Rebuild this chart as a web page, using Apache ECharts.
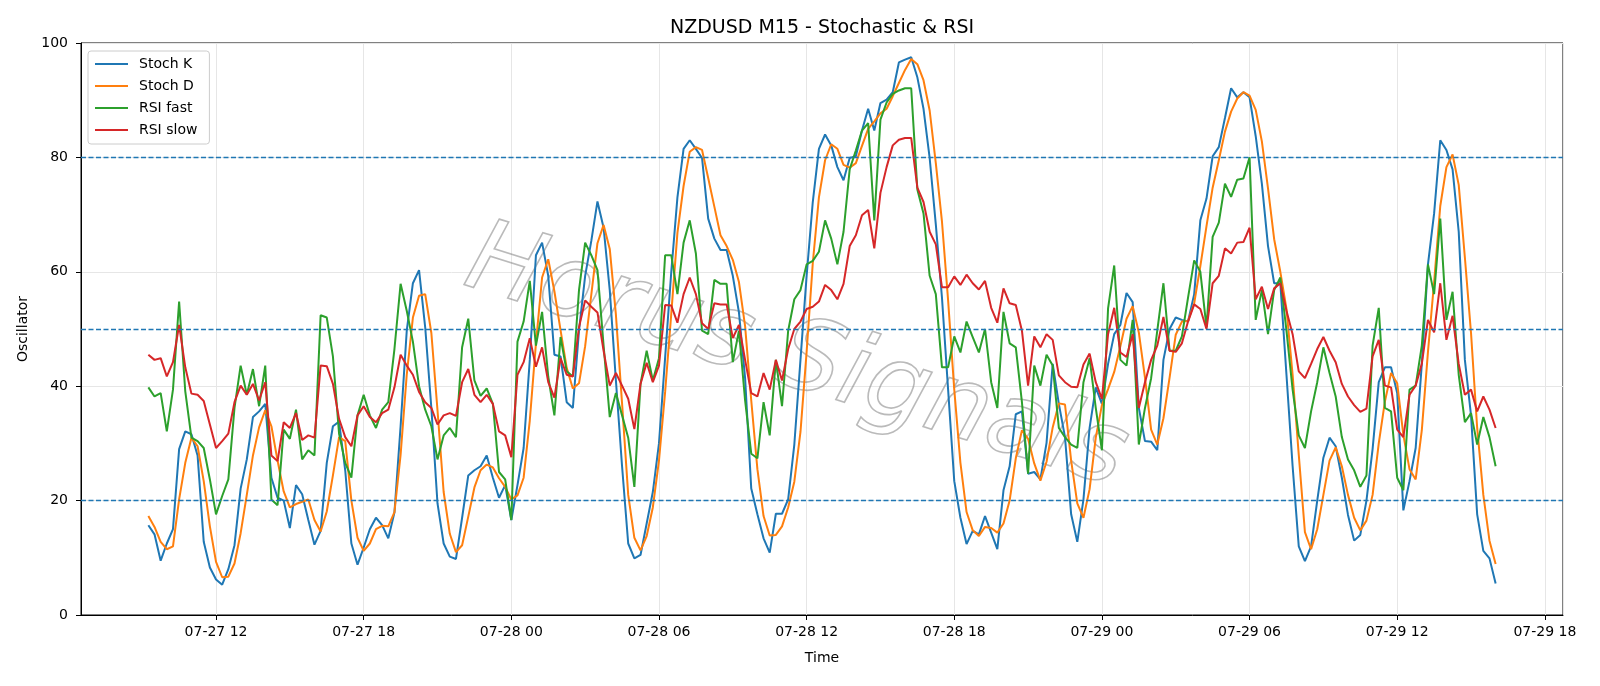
<!DOCTYPE html>
<html>
<head>
<meta charset="utf-8">
<title>NZDUSD M15 - Stochastic & RSI</title>
<script src="https://cdn.jsdelivr.net/npm/echarts@6/dist/echarts.min.js"></script>
<style>
html, body { margin: 0; padding: 0; background: #fff; }
#chart { width: 1600px; height: 686px; }
</style>
</head>
<body>
<div id="chart"></div>
<script>
// 15 minute bars, first one at 07-27 09:15
const startTime = Date.UTC(2020, 6, 27, 9, 15);
const stepMs = 15 * 60 * 1000;

const stochK = [
  15.7, 14.1, 9.5, 12.5, 15.0, 29.0, 32.1, 31.6, 27.9, 12.8,
  8.3, 6.2, 5.3, 8.0, 12.2, 22.1, 27.2, 34.6, 35.6, 36.9,
  24.0, 20.5, 20.0, 15.2, 22.7, 21.1, 16.6, 12.3, 14.7, 26.6,
  33.0, 33.8, 25.3, 12.5, 8.8, 11.8, 15.0, 17.0, 15.7, 13.4,
  17.9, 33.0, 49.7, 58.0, 60.3, 50.3, 36.2, 19.5, 12.5, 10.2,
  9.8, 17.0, 24.4, 25.3, 26.0, 27.9, 24.0, 20.5, 22.7, 16.6,
  22.7, 29.2, 44.6, 62.9, 65.1, 59.3, 45.5, 45.2, 37.2, 36.2,
  49.7, 59.3, 65.4, 72.3, 67.7, 56.8, 41.0, 26.0, 12.5, 9.9,
  10.5, 16.0, 21.5, 30.0, 45.0, 60.0, 73.0, 81.5, 83.0, 81.5,
  79.9, 69.3, 65.8, 63.8, 63.8, 59.3, 52.9, 41.4, 22.1, 17.6,
  13.4, 10.9, 17.7, 17.7, 20.2, 29.8, 44.6, 59.3, 72.2, 81.5,
  84.0, 82.1, 78.3, 76.0, 79.9, 80.2, 84.7, 88.5, 84.7, 89.5,
  90.1, 91.4, 96.6, 97.1, 97.5, 94.0, 88.5, 79.9, 68.3, 55.5,
  39.4, 23.4, 17.0, 12.4, 14.7, 14.1, 17.3, 14.4, 11.5, 21.8,
  26.0, 35.1, 35.6, 24.7, 25.0, 23.7, 30.1, 43.9, 36.9, 31.1,
  17.6, 12.8, 20.2, 32.7, 39.8, 36.9, 43.9, 49.1, 50.7, 56.3,
  54.7, 36.2, 30.4, 30.3, 28.8, 44.6, 50.0, 52.0, 51.6, 51.3,
  56.1, 69.0, 72.8, 80.2, 81.8, 86.9, 92.1, 90.5, 91.4, 90.5,
  83.7, 75.4, 64.5, 58.0, 58.0, 42.0, 26.0, 12.0, 9.4, 12.0,
  20.0, 27.5, 31.0, 29.5, 24.0, 17.5, 13.0, 14.0, 20.0, 29.0,
  40.7, 43.3, 43.3, 38.8, 18.3, 23.4, 29.2, 43.9, 61.3, 70.2,
  83.0, 81.3, 77.9, 67.0, 44.6, 34.9, 17.6, 11.2, 9.9, 5.5
];
const stochD = [
  17.3, 15.4, 12.8, 11.5, 12.0, 20.2, 26.6, 31.0, 29.5, 23.4,
  15.5, 9.3, 6.6, 6.7, 9.0, 14.3, 21.0, 27.9, 32.8, 35.8,
  33.0, 27.0, 21.6, 18.8, 19.4, 19.8, 20.2, 16.6, 14.6, 18.1,
  24.4, 31.1, 30.4, 20.0, 13.5, 11.2, 12.5, 15.0, 15.6, 15.5,
  18.0, 28.0, 42.0, 52.0, 55.8, 56.1, 49.3, 35.8, 21.5, 14.2,
  11.0, 12.2, 17.2, 22.3, 25.3, 26.3, 25.8, 23.9, 22.4, 20.2,
  20.9, 24.0, 34.0, 47.5, 59.0, 62.2, 56.6, 49.8, 43.2, 39.6,
  40.5, 47.0, 56.0, 65.0, 68.2, 64.0, 52.5, 37.0, 21.0, 13.5,
  11.3, 13.8, 18.8, 27.0, 39.0, 52.7, 66.8, 75.0, 81.0, 81.8,
  81.3, 76.4, 71.4, 66.4, 64.5, 62.1, 58.2, 50.5, 37.5, 25.5,
  17.3, 13.9, 14.0, 15.5, 18.8, 23.3, 32.0, 46.0, 61.5, 73.0,
  79.5, 82.3, 81.5, 78.7, 78.2, 79.0, 82.0, 85.0, 86.3, 87.7,
  88.5, 90.7, 93.0, 95.3, 97.2, 96.3, 93.5, 88.2, 79.0, 68.8,
  55.0, 39.4, 26.6, 18.0, 14.8, 13.8, 15.4, 15.2, 14.4, 16.0,
  20.0, 27.4, 32.3, 30.8, 26.5, 23.5, 26.8, 32.8, 37.0, 36.8,
  27.0, 19.5, 17.0, 22.0, 31.0, 36.7, 39.5, 42.5, 47.0, 51.8,
  54.0, 49.4, 41.5, 32.4, 29.8, 34.4, 41.5, 49.0, 51.3, 51.4,
  54.5, 61.0, 68.0, 74.7, 79.5, 84.5, 88.0, 90.3, 91.4, 90.8,
  88.3, 82.8, 74.6, 65.7, 60.0, 53.5, 42.0, 28.0, 14.5, 11.5,
  15.0, 21.0, 27.0, 29.3, 26.0, 21.0, 17.0, 14.8, 16.5, 21.0,
  30.0, 37.3, 42.3, 40.5, 31.5, 25.5, 23.7, 32.3, 46.0, 58.2,
  71.5, 78.3, 80.5, 75.2, 62.5, 49.3, 32.7, 21.0, 13.0, 8.9
];
const rsiFast = [
  39.8, 38.2, 38.8, 32.1, 39.4, 54.8, 39.1, 31.0, 30.4, 29.2,
  23.7, 17.6, 20.8, 23.7, 36.2, 43.6, 38.5, 43.0, 36.5, 43.6,
  20.2, 19.2, 32.4, 30.8, 35.9, 27.2, 28.8, 27.9, 52.4, 52.0,
  45.2, 31.7, 26.6, 24.0, 34.9, 38.5, 34.9, 32.7, 35.9, 37.2,
  46.5, 57.9, 53.2, 47.8, 40.0, 35.9, 33.0, 27.2, 31.4, 32.7,
  31.1, 46.8, 51.8, 41.0, 38.3, 39.6, 36.9, 25.0, 23.7, 16.6,
  47.8, 51.3, 58.4, 47.1, 53.0, 41.7, 34.9, 48.6, 42.6, 41.7,
  56.8, 65.1, 62.9, 60.3, 47.1, 34.6, 38.8, 34.9, 31.0, 22.4,
  40.4, 46.2, 41.0, 44.9, 62.9, 62.9, 56.1, 65.1, 69.0, 63.2,
  49.7, 49.1, 58.6, 57.9, 57.9, 44.2, 49.7, 37.5, 28.2, 27.4,
  37.2, 31.4, 44.6, 36.5, 49.7, 55.2, 56.8, 61.3, 61.9, 63.5,
  69.0, 65.8, 61.3, 67.0, 77.9, 81.2, 84.7, 86.0, 69.0, 86.6,
  89.6, 91.1, 91.7, 92.1, 92.1, 74.4, 70.2, 59.3, 56.1, 43.3,
  43.3, 48.7, 45.9, 51.3, 48.6, 45.9, 50.0, 40.7, 36.2, 53.0,
  47.5, 46.8, 37.2, 24.7, 43.6, 40.1, 45.5, 43.6, 32.7, 31.1,
  29.8, 29.2, 40.7, 44.9, 36.2, 28.8, 53.6, 61.1, 44.6, 43.6,
  51.6, 29.8, 36.2, 41.4, 49.7, 58.0, 46.2, 46.2, 48.7, 55.5,
  62.0, 60.0, 50.3, 66.1, 68.6, 75.4, 73.1, 76.1, 76.3, 80.0,
  51.6, 56.8, 49.1, 56.8, 59.0, 49.7, 39.4, 31.4, 29.2, 35.6,
  40.7, 46.8, 42.3, 38.2, 31.1, 27.2, 25.3, 22.4, 24.4, 47.1,
  53.7, 36.2, 35.6, 24.0, 21.8, 39.4, 40.1, 47.1, 61.3, 56.1,
  69.3, 51.6, 56.5, 42.0, 33.7, 35.3, 29.8, 34.6, 31.1, 26.0
];
const rsiSlow = [
  45.5, 44.6, 44.9, 41.7, 44.2, 50.7, 43.3, 38.7, 38.5, 37.4,
  33.3, 29.2, 30.4, 31.7, 37.2, 40.1, 38.5, 40.4, 37.5, 40.7,
  27.9, 26.9, 33.7, 32.7, 35.3, 30.6, 31.4, 31.0, 43.6, 43.5,
  40.4, 34.3, 31.1, 29.5, 34.9, 36.5, 34.6, 33.7, 35.3, 35.9,
  39.8, 45.5, 43.6, 42.0, 39.0, 37.2, 36.2, 33.3, 34.9, 35.3,
  34.8, 40.7, 43.0, 38.5, 37.2, 38.5, 36.9, 32.1, 31.4, 27.6,
  42.0, 44.2, 48.4, 43.4, 46.8, 40.7, 38.0, 44.9, 42.0, 41.7,
  50.3, 55.0, 53.9, 52.9, 46.2, 40.1, 42.3, 40.1, 37.8, 32.5,
  40.4, 44.1, 40.7, 43.6, 54.2, 54.1, 51.1, 56.1, 59.0, 56.1,
  51.0, 50.0, 54.5, 54.3, 54.3, 48.4, 50.7, 44.6, 38.8, 38.2,
  42.3, 39.4, 44.6, 41.0, 46.5, 50.0, 51.3, 53.5, 53.9, 54.8,
  57.7, 56.8, 55.2, 57.9, 64.5, 66.4, 69.9, 70.8, 64.1, 73.8,
  78.3, 82.1, 83.1, 83.4, 83.4, 74.7, 72.2, 67.0, 64.8, 57.3,
  57.3, 59.2, 57.7, 59.5, 58.0, 56.9, 58.4, 53.7, 51.1, 57.1,
  54.5, 54.2, 49.7, 40.1, 48.7, 46.8, 49.1, 48.1, 41.9, 40.7,
  39.9, 39.8, 43.8, 45.7, 40.7, 37.8, 49.1, 53.7, 45.9, 45.1,
  49.1, 36.2, 40.7, 44.6, 47.1, 52.1, 46.2, 46.0, 47.5, 51.3,
  54.3, 53.5, 50.0, 58.0, 59.3, 64.1, 63.2, 65.1, 65.2, 67.7,
  55.2, 57.4, 53.5, 57.1, 58.0, 53.2, 49.1, 42.6, 41.4, 43.9,
  46.5, 48.6, 46.2, 44.2, 40.4, 38.2, 36.7, 35.5, 36.1, 45.2,
  48.1, 40.1, 39.8, 32.4, 31.1, 38.5, 40.1, 43.9, 51.6, 49.4,
  58.0, 48.1, 52.3, 43.9, 38.5, 39.4, 35.6, 38.2, 35.9, 32.7
];
const levels = [20, 50, 80];

const times = stochK.map((v, i) => startTime + i * stepMs);
function pairs(arr) {
  return arr.map((v, i) => [times[i], v]);
}

let chart = echarts.init(document.getElementById("chart"));

function lineSeries(name, color, arr) {
  return {
    name: name,
    type: "line",
    data: pairs(arr),
    symbol: "none",
    showSymbol: false,
    animation: false,
    z: 3,
    lineStyle: { color: color, width: 2 },
    itemStyle: { color: color }
  };
}

let series = [
  lineSeries("Stoch K", "#1f77b4", stochK),
  lineSeries("Stoch D", "#ff7f0e", stochD),
  lineSeries("RSI fast", "#2ca02c", rsiFast),
  lineSeries("RSI slow", "#d62728", rsiSlow)
];
series[0].markLine = {
  silent: true,
  symbol: "none",
  animation: false,
  label: { show: false },
  lineStyle: { color: "#1f77b4", type: [5, 2.5], width: 1.3 },
  data: levels.map(v => ({ yAxis: v }))
};

// 6 hour ticks: the time scale rounds an approx interval of 7.5h down to 6h
const tickStep = 7.5 * 3600 * 1000;

let option = {
  useUTC: true,
  animation: false,
  textStyle: { fontFamily: "DejaVu Sans" },
  title: {
    text: "NZDUSD M15 - Stochastic & RSI",
    left: 817,
    top: 14,
    textAlign: "center",
    textStyle: { fontSize: 19, fontWeight: "normal", color: "#000", fontFamily: "DejaVu Sans" }
  },
  legend: {
    orient: "vertical",
    left: 88,
    top: 51,
    icon: "rect",
    itemWidth: 33,
    itemHeight: 2,
    itemGap: 6,
    padding: [5, 12, 6, 7],
    backgroundColor: "#fff",
    borderColor: "#cccccc",
    borderWidth: 1,
    borderRadius: 3,
    z: 10,
    textStyle: { fontSize: 14, lineHeight: 16, color: "#000", padding: [0, 0, 0, 6] },
    data: ["Stoch K", "Stoch D", "RSI fast", "RSI slow"]
  },
  graphic: [
    {
      // hollow watermark across the plot
      type: "text",
      x: 796,
      y: 360,
      rotation: -0.30,
      z: 1,
      silent: true,
      style: {
        text: "Horus Signals",
        font: 'italic 100px "DejaVu Sans"',
        fill: "rgba(255,255,255,0)",
        stroke: "rgba(130,130,130,0.55)",
        lineWidth: 1.6,
        align: "center",
        verticalAlign: "middle",
        textAlign: "center",
        textVerticalAlign: "middle"
      }
    }
  ],
  grid: {
    left: 81,
    right: 37,
    top: 43,
    bottom: 71,
    show: true,
    borderColor: "#000",
    borderWidth: 1,
    outerBoundsMode: "none"
  },
  xAxis: {
    type: "time",
    min: Date.UTC(2020, 6, 27, 6, 30, 45),
    max: Date.UTC(2020, 6, 29, 18, 44, 15),
    minInterval: tickStep,
    maxInterval: tickStep,
    name: "Time",
    nameLocation: "middle",
    nameGap: 36,
    nameTextStyle: { fontSize: 14, color: "#000" },
    axisLine: { lineStyle: { color: "#000", width: 1 } },
    axisTick: { show: true, length: 5, lineStyle: { color: "#000" } },
    axisLabel: {
      formatter: "{MM}-{dd} {HH}",
      fontSize: 14,
      color: "#000",
      margin: 10,
      showMinLabel: false,
      showMaxLabel: false
    },
    splitLine: { show: true, lineStyle: { color: "#e6e6e6", width: 1 } }
  },
  yAxis: {
    type: "value",
    min: 0,
    max: 100,
    interval: 20,
    name: "Oscillator",
    nameLocation: "middle",
    nameGap: 48,
    nameTextStyle: { fontSize: 14, color: "#000" },
    axisLine: { show: true, lineStyle: { color: "#000", width: 1 } },
    axisTick: { show: true, length: 5, lineStyle: { color: "#000" } },
    axisLabel: { fontSize: 14, color: "#000", margin: 13 },
    splitLine: { show: true, lineStyle: { color: "#e6e6e6", width: 1 } }
  },
  series: series
};

chart.setOption(option);
</script>
</body>
</html>
